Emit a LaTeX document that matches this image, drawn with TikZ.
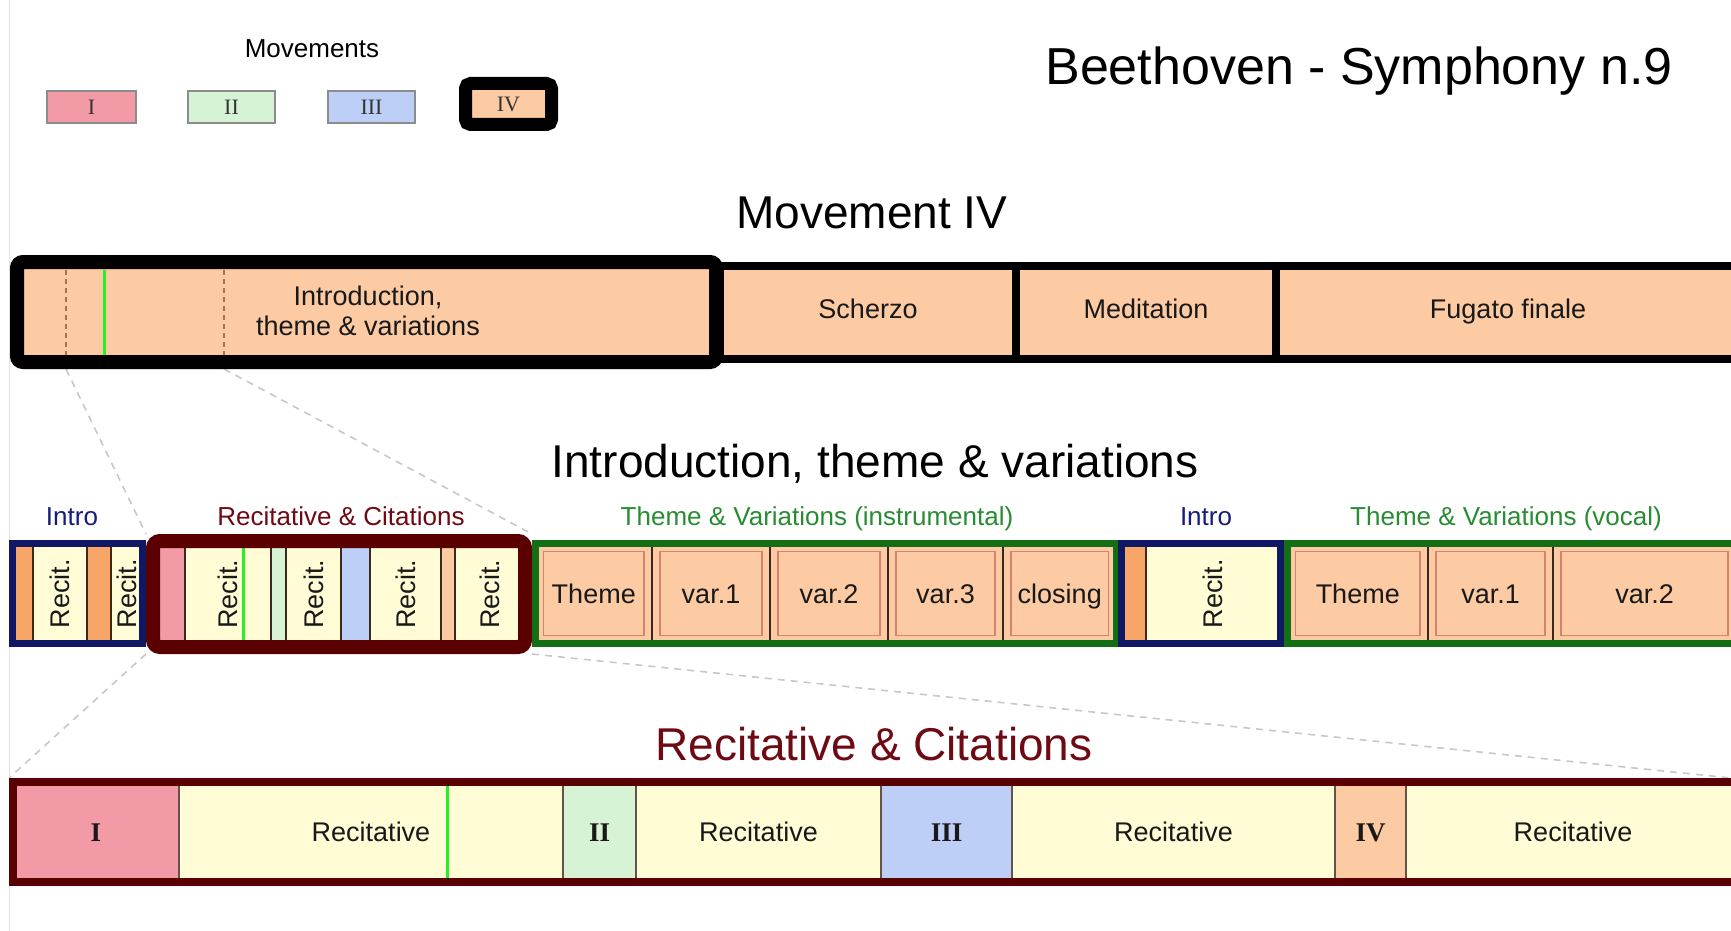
\documentclass[tikz,border=0pt]{standalone}
\usepackage{fontspec}
\setmainfont{Liberation Sans}
\newfontfamily\serifrm{Liberation Serif}
\usetikzlibrary{backgrounds}
\definecolor{peach}{RGB}{252,202,163}
\definecolor{orstrip}{RGB}{247,166,104}
\definecolor{cream}{RGB}{255,252,214}
\definecolor{pinkc}{RGB}{242,155,166}
\definecolor{lgreen}{RGB}{214,243,214}
\definecolor{lblue}{RGB}{190,207,247}
\definecolor{navyc}{RGB}{16,24,100}
\definecolor{dredc}{RGB}{90,0,0}
\definecolor{grnc}{RGB}{20,110,20}
\definecolor{leggray}{RGB}{140,140,140}
\definecolor{divc}{RGB}{60,40,30}
\definecolor{innerred}{RGB}{215,130,110}
\definecolor{glinec}{RGB}{40,240,40}
\definecolor{navytxt}{RGB}{20,30,120}
\definecolor{redtxt}{RGB}{110,10,20}
\definecolor{grntxt}{RGB}{40,140,50}
\definecolor{txt}{RGB}{25,25,25}
\definecolor{zoomc}{RGB}{200,200,200}
\definecolor{brdash}{RGB}{170,110,80}
\newcommand\fs[1]{\fontsize{#1}{#1}\selectfont}
\newcommand\cellbox[7]{\node[#1, minimum width={(#4-#3)*1pt}, minimum height={(#6-#5)*1pt}] (#2) at ({(#3+#4)/2},{(#5+#6)/2}) {#7};}
\newcommand\rc{\rotatebox{90}{Recit.}}
\tikzset{
  base/.style={inner sep=0pt, outer sep=0pt, text=txt},
  captxt/.style={font=\fs{27}, text height=19.3pt, text depth=0pt},
  leg/.style={base, draw=leggray, line width=1.5pt, font=\serifrm\fs{22}, text=black!80},
  legIVbox/.style={base, fill=peach, draw=black, line width=13pt, rounded corners=5pt, font=\serifrm\fs{22}, text=black!80},
  topcell/.style={base, fill=peach, draw=black, line width=8pt, captxt, text depth=6pt},
  topfirst/.style={base, fill=peach, draw=black, line width=14pt, rounded corners=6pt},
  mcell/.style={base, draw=divc, line width=1.5pt},
  recitcell/.style={mcell, fill=cream, font=\fs{27}},
  thcell/.style={mcell, fill=peach, captxt,
    path picture={\draw[innerred, line width=1.5pt] ([shift={(8pt,-8pt)}]path picture bounding box.north west) rectangle ([shift={(-8pt,8pt)}]path picture bounding box.south east);}},
  grpnavy/.style={base, outer sep=3.5pt, draw=navyc, line width=7pt},
  grpgreen/.style={base, outer sep=3.5pt, draw=grnc, line width=7pt},
  grpred/.style={base, outer sep=7pt, draw=dredc, line width=14pt, rounded corners=7pt},
  barred/.style={base, outer sep=4pt, draw=dredc, line width=8pt},
  bcell/.style={base, draw=divc!80, line width=1.5pt, captxt},
  roman/.style={font=\serifrm\bfseries\fs{27}, text height=18pt, text depth=0pt},
  lbl/.style={anchor=base, font=\fs{26}},
  bigtitle/.style={anchor=base, font=\fs{46}, text=black},
  zoomline/.style={draw=zoomc, line width=1.6pt, dash pattern=on 7pt off 6pt},
  gline/.style={draw=glinec, line width=3pt},
  bdash/.style={draw=brdash, line width=1.2pt, dash pattern=on 5pt off 4pt}
}
\begin{document}
\begin{tikzpicture}[x=1pt, y=-1pt]
\useasboundingbox (0,0) rectangle (1731,931);
\clip (0,0) rectangle (1731,931);
\draw[black!12, line width=1pt] (9.5,0) -- (9.5,931);

% ---------- legend ----------
\node[lbl, text=black] (movlbl) at (312,58) {Movements};
\cellbox{leg, fill=pinkc}{legI}{47}{136}{91}{123}{I}
\cellbox{leg, fill=lgreen}{legII}{188}{275}{91}{123}{II}
\cellbox{leg, fill=lblue}{legIII}{328}{415}{91}{123}{III}
\cellbox{legIVbox}{legIV}{465.5}{551.5}{83.5}{124.5}{IV}

\node[anchor=base, font=\fs{52}, text=black] (title) at (1359,85) {Beethoven - Symphony n.9};

% ---------- movement IV bar ----------
\node[bigtitle] (movIV) at (872,228) {Movement IV};
\cellbox{topcell}{scherzo}{720}{1016}{266}{358.5}{Scherzo}
\cellbox{topcell}{medit}{1016}{1276}{266}{358.5}{Meditation}
\cellbox{topcell}{fugato}{1276}{1740}{266}{358.5}{Fugato finale}
\cellbox{topfirst}{itv}{17}{716}{262}{362}{}
\node[font=\fs{27}, text=txt, align=center, inner sep=0pt] (itvtext) at (368,311) {Introduction,\\[3pt]theme \& variations};
\coordinate (dA1) at (66,270);  \coordinate (dA2) at (66,355);
\coordinate (dB1) at (224,270); \coordinate (dB2) at (224,355);
\draw[bdash] (dA1) -- (dA2);
\draw[bdash] (dB1) -- (dB2);
\draw[gline] (104,270) -- (104,355);

% ---------- introduction, theme & variations ----------
\node[bigtitle] (itvtitle) at (875,477) {Introduction, theme \& variations};
\node[lbl, text=navytxt] (l1) at (72,525) {Intro};
\node[lbl, text=redtxt] (l2) at (341,525) {Recitative \& Citations};
\node[lbl, text=grntxt] (l3) at (817,525) {Theme \& Variations (instrumental)};
\node[lbl, text=navytxt] (l4) at (1206,525) {Intro};
\node[lbl, text=grntxt] (l5) at (1506,525) {Theme \& Variations (vocal)};

% intro 1
\cellbox{mcell, fill=orstrip}{ia1}{12.5}{33}{543.5}{643.5}{}
\cellbox{recitcell}{ia2}{33}{87}{543.5}{643.5}{\rc}
\cellbox{mcell, fill=orstrip}{ia3}{87}{111}{543.5}{643.5}{}
\cellbox{recitcell}{ia4}{111}{142.5}{543.5}{643.5}{\rc}
\cellbox{grpnavy}{introA}{12.5}{142.5}{543.5}{643.5}{}
% recitative & citations
\cellbox{mcell, fill=pinkc}{rc1}{153}{185}{541}{647}{}
\cellbox{recitcell}{rc2}{185}{271}{541}{647}{\rc}
\cellbox{mcell, fill=lgreen}{rc3}{271}{286}{541}{647}{}
\cellbox{recitcell}{rc4}{286}{341}{541}{647}{\rc}
\cellbox{mcell, fill=lblue}{rc5}{341}{370}{541}{647}{}
\cellbox{recitcell}{rc6}{370}{441}{541}{647}{\rc}
\cellbox{mcell, fill=peach}{rc7}{441}{455}{541}{647}{}
\cellbox{recitcell}{rc8}{455}{525}{541}{647}{\rc}
\draw[gline] (243,548) -- (243,643);
\cellbox{grpred}{rcgrp}{153}{525}{541}{647}{}
% theme & variations instrumental
\cellbox{thcell}{ti1}{535.5}{652}{543.5}{643.5}{Theme}
\cellbox{thcell}{ti2}{652}{770}{543.5}{643.5}{var.1}
\cellbox{thcell}{ti3}{770}{888}{543.5}{643.5}{var.2}
\cellbox{thcell}{ti4}{888}{1003}{543.5}{643.5}{var.3}
\cellbox{thcell}{ti5}{1003}{1116.5}{543.5}{643.5}{closing}
\cellbox{grpgreen}{tigrp}{535.5}{1116.5}{543.5}{643.5}{}
% intro 2
\cellbox{mcell, fill=orstrip}{ib1}{1121.5}{1146}{543.5}{643.5}{}
\cellbox{recitcell}{ib2}{1146}{1280.5}{543.5}{643.5}{\rc}
\cellbox{grpnavy}{introB}{1121.5}{1280.5}{543.5}{643.5}{}
% theme & variations vocal
\cellbox{thcell}{tv1}{1287.5}{1428}{543.5}{643.5}{Theme}
\cellbox{thcell}{tv2}{1428}{1553}{543.5}{643.5}{var.1}
\cellbox{thcell}{tv3}{1553}{1736}{543.5}{643.5}{var.2}
\cellbox{grpgreen}{tvgrp}{1287.5}{1745}{543.5}{643.5}{}

% ---------- recitative & citations bar ----------
\node[anchor=base, font=\fs{46}, text=redtxt] (rctitle) at (874,760) {Recitative \& Citations};
\cellbox{bcell, fill=pinkc}{b1}{13}{179}{782}{882}{}
\cellbox{bcell, fill=cream}{b2}{179}{563}{782}{882}{Recitative}
\cellbox{bcell, fill=lgreen}{b3}{563}{636}{782}{882}{}
\cellbox{bcell, fill=cream}{b4}{636}{881}{782}{882}{Recitative}
\cellbox{bcell, fill=lblue}{b5}{881}{1012}{782}{882}{}
\cellbox{bcell, fill=cream}{b6}{1012}{1335}{782}{882}{Recitative}
\cellbox{bcell, fill=peach}{b7}{1335}{1406}{782}{882}{}
\cellbox{bcell, fill=cream}{b8}{1406}{1740}{782}{882}{Recitative}
\node[roman, text=txt, inner sep=0pt] (rI) at (b1) {I};
\node[roman, text=txt, inner sep=0pt] (rII) at (b3) {II};
\node[roman, text=txt, inner sep=0pt] (rIII) at (b5) {III};
\node[roman, text=txt, inner sep=0pt] (rIV) at (b7) {IV};
\draw[gline] (447,786) -- (447,879);
\cellbox{barred}{rcbar}{13}{1745}{782}{882}{}

% ---------- zoom lines ----------
\coordinate (zA) at (66,369);
\coordinate (zB) at (224,369);
\coordinate (zD) at (1731,778);
\begin{scope}[on background layer]
\fill[white] (0,0) rectangle (1731,931);
\draw[zoomline] (zA) -- (rcgrp.north west);
\draw[zoomline] (zB) -- (rcgrp.north east);
\draw[zoomline] (rcgrp.south west) -- (rcbar.north west);
\draw[zoomline] (rcgrp.south east) -- (zD);
\end{scope}
\end{tikzpicture}
\end{document}
